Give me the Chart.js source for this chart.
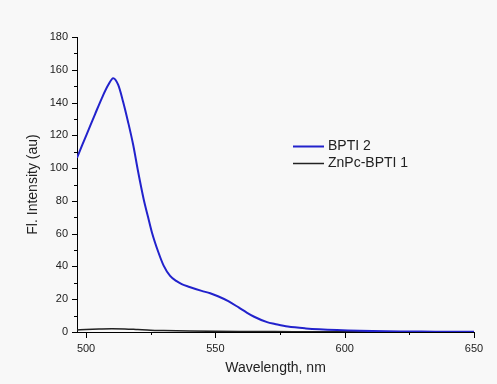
<!DOCTYPE html>
<html>
<head>
<meta charset="utf-8">
<script src="https://cdn.jsdelivr.net/npm/chart.js@4.4.1/dist/chart.umd.min.js"></script>
<style>
    body { margin: 0; background: #f8f8f8; overflow: hidden; }
    canvas { display: block; }
</style>
</head>
<body>
<canvas id="spectrum-chart" width="497" height="384"></canvas>
<script>
    const seriesNames = ['BPTI 2', 'ZnPc-BPTI 1'];
    const seriesColors = ['#2222cc', '#222222'];

    // BPTI 2 emission
    const bptiWavelength = [496.5, 498.5, 501, 503.5, 506, 508.5, 510.5, 512.4, 514.3, 516.2, 518.2, 520.1, 522.3, 524, 525.5, 528, 530, 532.5, 535, 537, 540, 544.7, 548, 551, 555, 559, 562, 565, 570, 573, 578, 585, 597, 616, 635, 650];
    const bptiIntensity = [106.3, 114, 123.5, 133, 142.3, 150.5, 154.9, 150.9, 140.7, 128.5, 114.4, 98.1, 80.9, 70, 60.6, 48.5, 40.5, 34.2, 31, 29.2, 27.5, 25.1, 23.6, 21.8, 18.8, 15, 12, 9.3, 6, 4.9, 3.3, 2.2, 1.2, 0.4, 0.2, 0.1];

    // ZnPc-BPTI 1 emission
    const znpcWavelength = [496.5, 500, 505, 510, 515, 520, 525, 530, 540, 550, 560, 580, 600, 650];
    const znpcIntensity = [1.2, 1.5, 1.8, 2.0, 1.9, 1.5, 1.1, 0.9, 0.6, 0.4, 0.3, 0.2, 0.1, 0.05];

    const xTicks = [500, 525, 550, 575, 600, 625, 650];
    const xLabels = [500, 550, 600, 650];
    const yTicks = [0, 10, 20, 30, 40, 50, 60, 70, 80, 90, 100, 110, 120, 130, 140, 150, 160, 170, 180];
    const yLabels = [0, 20, 40, 60, 80, 100, 120, 140, 160, 180];

    const toPoints = (xs, ys) => xs.map((x, i) => ({x: x, y: ys[i]}));

    // major and minor tick marks, drawn outside the axes
    const axisTicks = {
        id: 'axisTicks',
        afterDraw(chart) {
            const ctx = chart.ctx;
            const xs = chart.scales.x;
            const ys = chart.scales.y;
            ctx.save();
            ctx.strokeStyle = '#000000';
            ctx.lineWidth = 1;
            ctx.beginPath();
            xs.ticks.forEach(t => {
                const px = Math.round(xs.getPixelForValue(t.value)) + 0.5;
                const len = xLabels.includes(t.value) ? 6 : 3;
                ctx.moveTo(px, xs.top);
                ctx.lineTo(px, xs.top + len);
            });
            ys.ticks.forEach(t => {
                const py = Math.round(ys.getPixelForValue(t.value)) + 0.5;
                const len = yLabels.includes(t.value) ? 5 : 3;
                ctx.moveTo(ys.right, py);
                ctx.lineTo(ys.right - len, py);
            });
            ctx.stroke();
            ctx.restore();
        }
    };

    // legend inside the plot, to the right of the peak
    const innerLegend = {
        id: 'innerLegend',
        afterDraw(chart) {
            const ctx = chart.ctx;
            ctx.save();
            ctx.font = '14px "Liberation Sans", Arial, sans-serif';
            ctx.textBaseline = 'middle';
            ctx.fillStyle = '#222222';
            chart.data.datasets.forEach((ds, i) => {
                const y = 146 + i * 17;
                ctx.strokeStyle = ds.borderColor;
                ctx.lineWidth = ds.borderWidth;
                ctx.beginPath();
                ctx.moveTo(293, y + 0.5);
                ctx.lineTo(324, y + 0.5);
                ctx.stroke();
                ctx.fillText(ds.label, 328, y);
            });
            ctx.restore();
        }
    };

    const tickFont = {size: 11, family: '"Liberation Sans", Arial, sans-serif'};
    const titleFont = {size: 14, family: '"Liberation Sans", Arial, sans-serif'};

    new Chart(document.getElementById('spectrum-chart'), {
        type: 'line',
        data: {
            datasets: [{
                label: seriesNames[0],
                data: toPoints(bptiWavelength, bptiIntensity),
                borderColor: seriesColors[0],
                borderWidth: 2,
                pointRadius: 0,
                cubicInterpolationMode: 'monotone'
            }, {
                label: seriesNames[1],
                data: toPoints(znpcWavelength, znpcIntensity),
                borderColor: seriesColors[1],
                borderWidth: 1.5,
                pointRadius: 0,
                cubicInterpolationMode: 'monotone'
            }]
        },
        options: {
            responsive: false,
            animation: false,
            devicePixelRatio: 1,
            layout: {padding: {top: 37, right: 23, left: 0, bottom: 0}},
            plugins: {
                legend: {display: false},
                tooltip: {enabled: false}
            },
            scales: {
                x: {
                    type: 'linear',
                    min: 496.5,
                    max: 650,
                    afterBuildTicks: scale => { scale.ticks = xTicks.map(v => ({value: v})); },
                    afterFit: scale => { scale.height = 52; },
                    grid: {display: false, drawTicks: false},
                    border: {display: true, color: '#000000', width: 1},
                    ticks: {
                        autoSkip: false,
                        maxRotation: 0,
                        padding: 10,
                        color: '#222222',
                        font: tickFont,
                        callback: v => xLabels.includes(v) ? String(v) : ''
                    },
                    title: {
                        display: true,
                        text: 'Wavelength, nm',
                        color: '#222222',
                        font: titleFont,
                        padding: {top: 0, bottom: 7}
                    }
                },
                y: {
                    type: 'linear',
                    min: 0,
                    max: 180,
                    afterBuildTicks: scale => { scale.ticks = yTicks.map(v => ({value: v})); },
                    afterFit: scale => { scale.width = 77; },
                    grid: {display: false, drawTicks: false},
                    border: {display: true, color: '#000000', width: 1},
                    ticks: {
                        autoSkip: false,
                        padding: 9,
                        color: '#222222',
                        font: tickFont,
                        callback: v => yLabels.includes(v) ? String(v) : ''
                    },
                    title: {
                        display: true,
                        text: 'Fl. Intensity (au)',
                        color: '#222222',
                        font: titleFont,
                        padding: {top: 25, bottom: 0}
                    }
                }
            }
        },
        plugins: [axisTicks, innerLegend]
    });
</script>
</body>
</html>
